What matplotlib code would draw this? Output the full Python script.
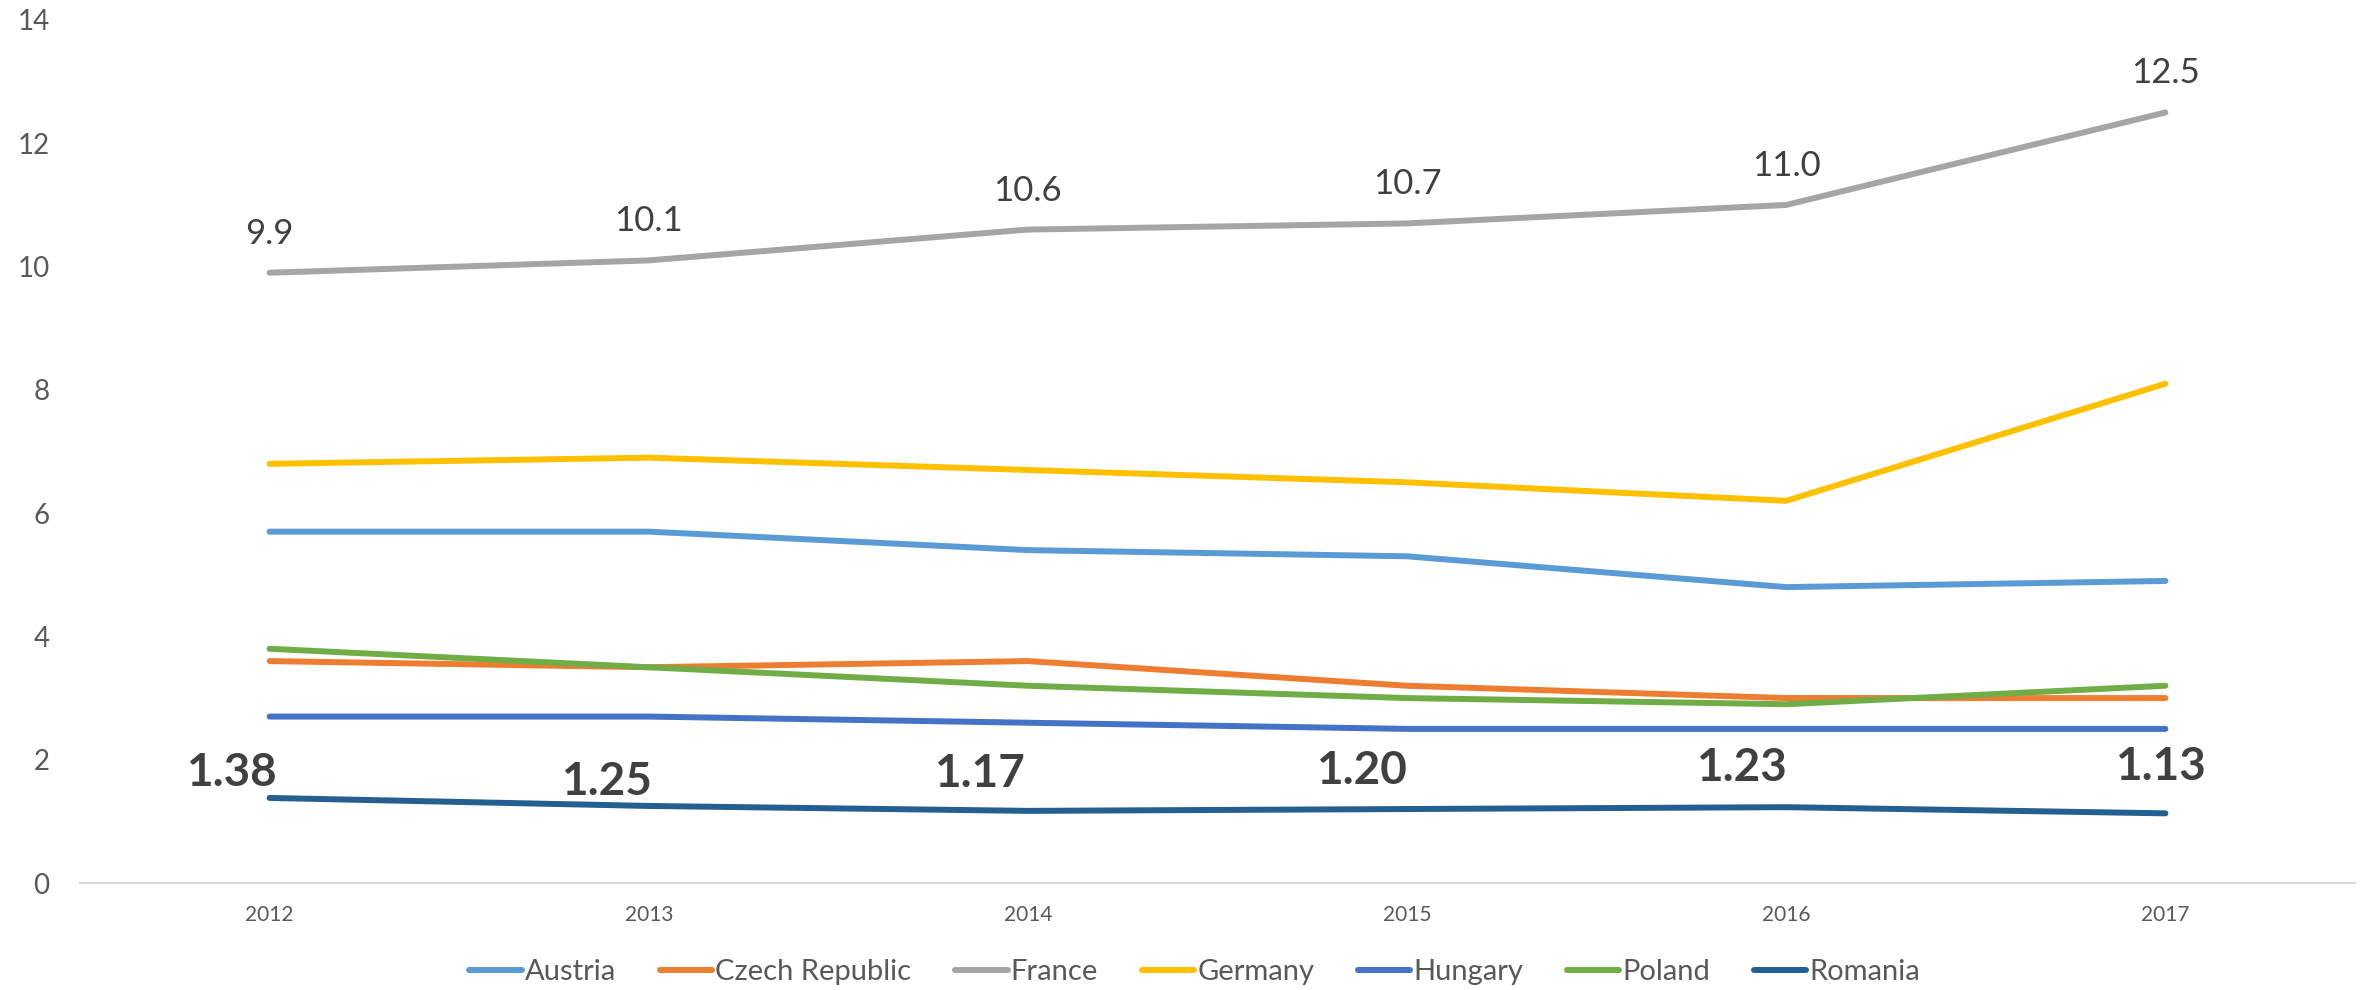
import matplotlib
matplotlib.use("Agg")
import matplotlib.pyplot as plt

years = ["2012", "2013", "2014", "2015", "2016", "2017"]
countries = ["Austria", "Czech Republic", "France", "Germany", "Hungary", "Poland", "Romania"]
austria = [5.7, 5.7, 5.4, 5.3, 4.8, 4.9]
czech = [3.6, 3.5, 3.6, 3.2, 3.0, 3.0]
france = [9.9, 10.1, 10.6, 10.7, 11.0, 12.5]
germany = [6.8, 6.9, 6.7, 6.5, 6.2, 8.1]
hungary = [2.7, 2.7, 2.6, 2.5, 2.5, 2.5]
poland = [3.8, 3.5, 3.2, 3.0, 2.9, 3.2]
romania = [1.38, 1.25, 1.17, 1.20, 1.23, 1.13]
yticks = [0, 2, 4, 6, 8, 10, 12, 14]

series = [austria, czech, france, germany, hungary, poland, romania]
colors = ["#5B9BD5", "#ED7D31", "#A5A5A5", "#FFC000", "#4472C4", "#70AD47", "#255E91"]

# label offsets for Romania labels (pixels)
rom_dx = [-38, -42, -49, -46, -45, -5]
rom_dy = [25, 24, 37, 38, 39, 46]

plt.rcParams["font.family"] = ["Lato", "DejaVu Sans"]

fig = plt.figure(figsize=(23.66, 9.9), dpi=100)
ax = fig.add_axes([80 / 2366, 1 - 883 / 990, (2355 - 80) / 2366, (883 - 20) / 990])

x = list(range(len(years)))
for name, vals, c in zip(countries, series, colors):
    ax.plot(x, vals, color=c, lw=4.3, solid_capstyle="round", solid_joinstyle="round", label=name)

for xi, v in zip(x, france):
    ax.annotate(f"{v:.1f}", (xi, v), xytext=(0, 39), textcoords="offset pixels",
                ha="center", va="center", fontsize=25, color="#404040")

for xi, v, dx, dy in zip(x, romania, rom_dx, rom_dy):
    ax.annotate(f"{v:.2f}", (xi, v), xytext=(dx, dy), textcoords="offset pixels",
                ha="center", va="center", fontsize=33, fontweight="bold", color="#404040")

ax.set_xlim(-0.5, len(years) - 0.5)
ax.set_ylim(0, 14)
ax.set_yticks(yticks)
ax.set_yticklabels([str(t) for t in yticks])
ax.set_xticks(x)
ax.set_xticklabels(years)
ax.tick_params(axis="y", length=0, pad=22, labelsize=20, labelcolor="#595959")
ax.tick_params(axis="x", length=0, pad=16, labelsize=15, labelcolor="#595959")
for s in ["top", "right", "left"]:
    ax.spines[s].set_visible(False)
ax.spines["bottom"].set_color("#D9D9D9")
ax.spines["bottom"].set_linewidth(1.5)

leg = fig.legend(loc="center", bbox_to_anchor=(0.505, 0.018), ncol=7, frameon=False,
                 fontsize=21, handlelength=1.8, handletextpad=0.1, columnspacing=1.5,
                 labelcolor="#595959")

fig.savefig("out.png", dpi=100)
